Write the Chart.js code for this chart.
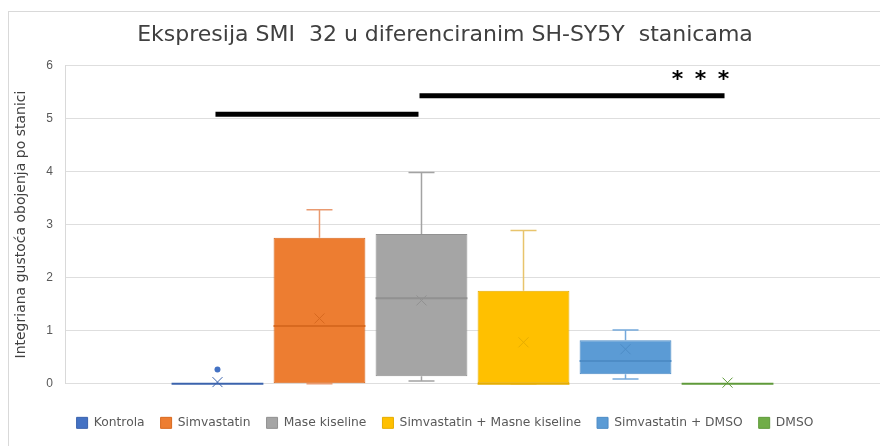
<!DOCTYPE html>
<html>
<head>
<meta charset="utf-8">
<title>Ekspresija SMI 32</title>
<script src="https://cdn.jsdelivr.net/npm/chart.js@4.4.1/dist/chart.umd.min.js"></script>
<style>
    body { margin: 0; background: #ffffff; }
    .wrap { position: relative; width: 880px; height: 446px; overflow: hidden; }
    .frame { position: absolute; left: 8px; top: 11px; width: 900px; height: 460px; border: 1px solid #d9d9d9; }
    #chart { position: relative; }
</style>
</head>
<body>
<div class="wrap">
    <div class="frame"></div>
    <canvas id="chart" width="880" height="446"></canvas>
</div>
<script>
// groups (one box each)
const groups = ['Kontrola', 'Simvastatin', 'Mase kiseline', 'Simvastatin + Masne kiseline', 'Simvastatin + DMSO', 'DMSO']

// five-number summary + mean
const minValues = [0, 0, 0.05, 0, 0.09, 0]
const q1Values = [0, 0, 0.14, 0, 0.18, 0]
const medianValues = [0, 1.09, 1.61, 0, 0.43, 0]
const q3Values = [0.01, 2.75, 2.82, 1.75, 0.82, 0.01]
const maxValues = [0.01, 3.28, 3.98, 2.89, 1.01, 0.01]
const meanValues = [0.03, 1.23, 1.57, 0.78, 0.65, 0.02]
const outlierValues = [[0.27], [], [], [], [], []]

// significance bars: from group index, to group index, height, label
const sigFrom = [0, 2]
const sigTo = [2, 5]
const sigLevel = [5.08, 5.43]
const sigLabel = ['', '***']

const fillColors = ['#4472C4', '#ED7D31', '#A5A5A5', '#FFC000', '#5B9BD5', '#70AD47']
const edgeColors = ['#3b63ad', '#d8691f', '#919191', '#e6ad00', '#4d8cc6', '#5f9a3a']
const whiskerColors = ['#6f8fcf', '#e99a70', '#a3a3a3', '#e8c46c', '#74a9dc', '#8cbf6a']

const boxPlotDecorations = {
    id: 'boxPlotDecorations',
    afterDatasetsDraw(chart) {
        const {ctx} = chart
        const y = chart.scales.y
        const capHalf = 13

        groups.forEach((g, i) => {
            const bar = chart.getDatasetMeta(i).data[0]
            if (!bar) return
            const x = bar.x
            const half = bar.width / 2
            ctx.save()

            // whiskers + caps
            ctx.strokeStyle = whiskerColors[i]
            ctx.lineWidth = 1.5
            ctx.beginPath()
            if (maxValues[i] > q3Values[i]) {
                ctx.moveTo(x, y.getPixelForValue(q3Values[i]))
                ctx.lineTo(x, y.getPixelForValue(maxValues[i]))
                ctx.moveTo(x - capHalf, y.getPixelForValue(maxValues[i]))
                ctx.lineTo(x + capHalf, y.getPixelForValue(maxValues[i]))
            }
            if (minValues[i] < q1Values[i] || (q3Values[i] - q1Values[i]) > 0.1) {
                ctx.moveTo(x, y.getPixelForValue(q1Values[i]))
                ctx.lineTo(x, y.getPixelForValue(minValues[i]))
                ctx.moveTo(x - capHalf, y.getPixelForValue(minValues[i]))
                ctx.lineTo(x + capHalf, y.getPixelForValue(minValues[i]))
            }
            ctx.stroke()

            // median
            ctx.strokeStyle = edgeColors[i]
            ctx.lineWidth = 2
            ctx.beginPath()
            const my = y.getPixelForValue(medianValues[i])
            ctx.moveTo(x - half, my)
            ctx.lineTo(x + half, my)
            ctx.stroke()

            // mean marker (x)
            const mY = y.getPixelForValue(meanValues[i])
            const s = 5
            ctx.lineWidth = 1
            ctx.beginPath()
            ctx.moveTo(x - s, mY - s)
            ctx.lineTo(x + s, mY + s)
            ctx.moveTo(x - s, mY + s)
            ctx.lineTo(x + s, mY - s)
            ctx.stroke()

            // outliers
            ctx.fillStyle = fillColors[i]
            outlierValues[i].forEach(v => {
                ctx.beginPath()
                ctx.arc(x, y.getPixelForValue(v), 3, 0, Math.PI * 2)
                ctx.fill()
            })
            ctx.restore()
        })

        // significance bars
        sigFrom.forEach((from, k) => {
            const a = chart.getDatasetMeta(from).data[0]
            const b = chart.getDatasetMeta(sigTo[k]).data[0]
            const ly = y.getPixelForValue(sigLevel[k])
            ctx.save()
            ctx.strokeStyle = '#000000'
            ctx.lineWidth = 5
            ctx.beginPath()
            ctx.moveTo(a.x - 2, ly)
            ctx.lineTo(b.x - 3, ly)
            ctx.stroke()
            if (sigLabel[k]) {
                ctx.fillStyle = '#000000'
                ctx.font = 'bold 22px "DejaVu Sans"'
                ctx.textAlign = 'center'
                ctx.textBaseline = 'middle'
                const chars = sigLabel[k].split('')
                const step = 23
                chars.forEach((c, n) => {
                    ctx.fillText(c, b.x - 4 - (chars.length - 1 - n) * step, ly - 15)
                })
            }
            ctx.restore()
        })
    }
}

const dataSets = groups.map((g, i) => ({
    label: g,
    data: [[q1Values[i], q3Values[i]]],
    backgroundColor: fillColors[i],
    borderColor: edgeColors[i],
    borderWidth: 1,
    borderSkipped: false,
    categoryPercentage: 0.751,
    barPercentage: 0.9
}))

new Chart(document.getElementById('chart'), {
    type: 'bar',
    data: {
        labels: [''],
        datasets: dataSets
    },
    options: {
        responsive: false,
        animation: false,
        layout: {padding: {left: 10, right: 0, top: 0, bottom: 7}},
        scales: {
            x: {
                grid: {display: false},
                border: {display: false},
                ticks: {display: false},
                afterFit: scale => { scale.height = 17 }
            },
            y: {
                min: 0,
                max: 6,
                ticks: {
                    stepSize: 1,
                    color: '#595959',
                    padding: 12,
                    font: {family: 'Liberation Sans', size: 12}
                },
                grid: {color: '#dedede', drawTicks: false},
                border: {color: '#d9d9d9'},
                title: {
                    display: true,
                    text: 'Integriana gustoća obojenja po stanici',
                    color: '#404040',
                    padding: {top: 3, bottom: 0},
                    font: {family: 'DejaVu Sans', size: 14}
                },
                afterFit: scale => { scale.width = 55 }
            }
        },
        plugins: {
            title: {
                display: true,
                text: 'Ekspresija SMI  32 u diferenciranim SH-SY5Y  stanicama',
                color: '#404040',
                padding: {top: 22, bottom: 17},
                font: {family: 'DejaVu Sans', size: 22, weight: 'normal'}
            },
            legend: {
                position: 'bottom',
                labels: {
                    boxWidth: 11,
                    boxHeight: 11,
                    padding: 16,
                    color: '#595959',
                    font: {family: 'DejaVu Sans', size: 12.3}
                }
            },
            tooltip: {enabled: false}
        }
    },
    plugins: [boxPlotDecorations]
})
</script>
</body>
</html>
